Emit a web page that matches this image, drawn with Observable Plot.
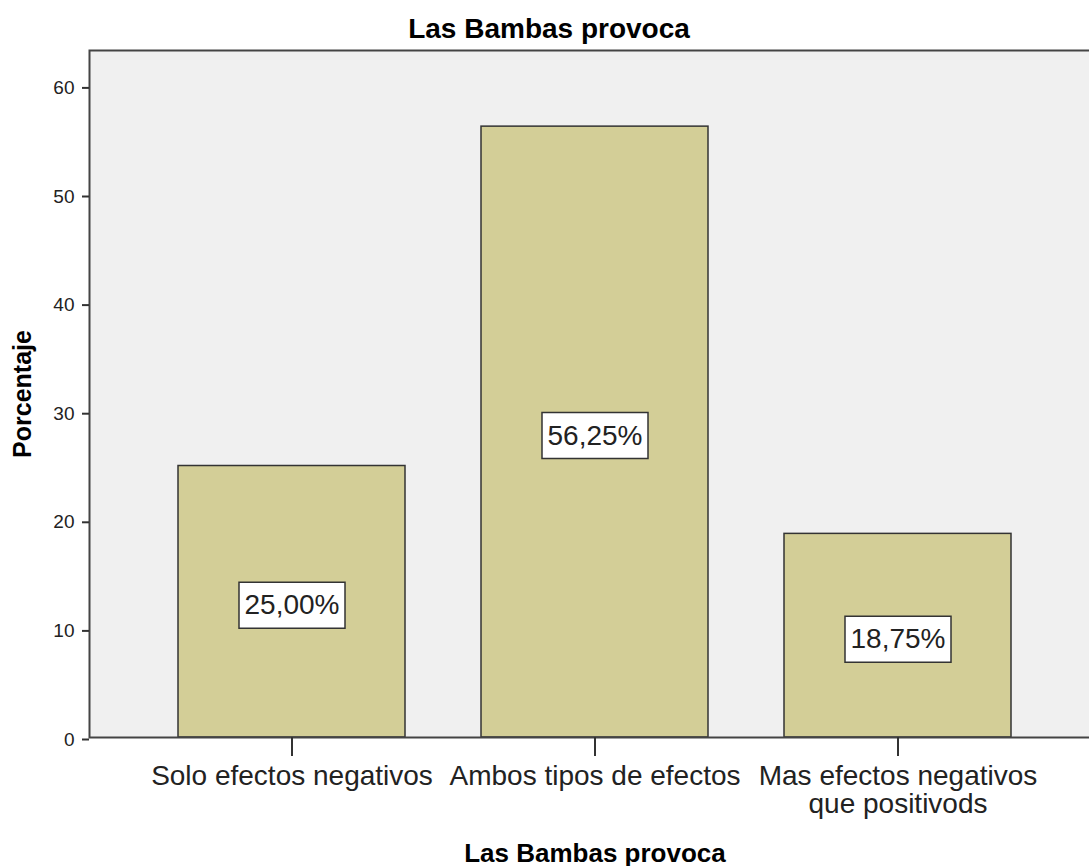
<!DOCTYPE html>
<html>
<head>
<meta charset="utf-8">
<script src="https://cdn.jsdelivr.net/npm/d3@7"></script>
<script src="https://cdn.jsdelivr.net/npm/@observablehq/plot@0.6"></script>
<style>
  html, body { margin: 0; padding: 0; background: #ffffff; overflow: hidden; }
  #chart { width: 1100px; }
  #chart svg { display: block; max-width: none !important; width: 1100px !important; height: 866px !important; }
</style>
</head>
<body>
<div id="chart"></div>
<script>
const title = "Las Bambas provoca";
const xTitle = "Las Bambas provoca";
const yTitle = "Porcentaje";
const categories = ["Solo efectos negativos", "Ambos tipos de efectos", "Mas efectos negativos\nque positivods"];
const percentages = [25.00, 56.25, 18.75];
const yTicks = [0, 10, 20, 30, 40, 50, 60];

const data = categories.map((c, i) => ({cat: c, pct: percentages[i]}));
const fmt = v => v.toFixed(2).replace(".", ",") + "%";

const boxSymbol = {
  draw(context, size) {
    context.moveTo(-53, -23);
    context.lineTo(53, -23);
    context.lineTo(53, 23);
    context.lineTo(-53, 23);
    context.closePath();
  }
};

const font = "'Liberation Sans', Arial, sans-serif";

const chart = Plot.plot({
  width: 1100,
  height: 866,
  marginTop: 50,
  marginBottom: 129,
  marginLeft: 89,
  marginRight: 0,
  style: {fontFamily: font, background: "#ffffff", color: "#222"},
  x: {domain: categories, paddingInner: 0.25, paddingOuter: 0.293, label: null},
  y: {domain: [0, 63.26], label: null},
  marks: [
    Plot.frame({fill: "#f0f0f0", stroke: null}),
    Plot.barY(data, {x: "cat", y: "pct", fill: "#d3ce97", stroke: "#333", strokeWidth: 1.5}),
    Plot.dot(data, {x: "cat", y: d => d.pct / 2, symbol: boxSymbol, fill: "white", stroke: "#333", strokeWidth: 1.5, dy: 3.5}),
    Plot.text(data, {x: "cat", y: d => d.pct / 2, text: d => fmt(d.pct), fontSize: 28, fill: "#222", dy: 3.5}),
    Plot.frame({stroke: "#444", strokeWidth: 2, fill: "none"}),
    Plot.axisY(yTicks, {tickSize: 7, tickPadding: 8, fontSize: 19, strokeWidth: 2, stroke: "#333", fill: "#222", dy: 2}),
    Plot.axisX({tickSize: 19, tickPadding: 9, fontSize: 28, lineHeight: 1.0, strokeWidth: 2, stroke: "#333", fill: "#222"}),
    Plot.text([title], {frameAnchor: "top", dx: -46, dy: -13, lineAnchor: "bottom", fontSize: 28, fontWeight: "bold", fill: "#000"}),
    Plot.text([xTitle], {frameAnchor: "bottom", dy: 124, lineAnchor: "bottom", fontSize: 26, fontWeight: "bold", fill: "#000"}),
    Plot.text([yTitle], {frameAnchor: "left", dx: -59, textAnchor: "middle", rotate: -90, lineAnchor: "bottom", fontSize: 25, fontWeight: "bold", fill: "#000"})
  ]
});
document.getElementById("chart").appendChild(chart);
</script>
</body>
</html>
